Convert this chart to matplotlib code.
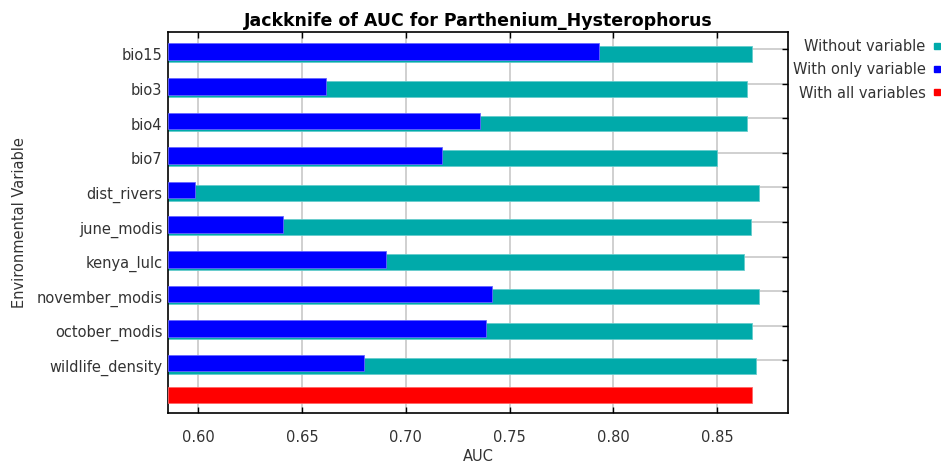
import numpy as np
import matplotlib
matplotlib.use("Agg")
import matplotlib.pyplot as plt
from matplotlib.lines import Line2D

plt.rcParams['font.family'] = ['DejaVu Sans']

# jackknife results read from the maxent output
variables = ["bio15", "bio3", "bio4", "bio7", "dist_rivers", "june_modis",
             "kenya_lulc", "november_modis", "october_modis", "wildlife_density"]
auc_without = [0.867, 0.8643, 0.8643, 0.850, 0.8702, 0.8662,
               0.8631, 0.8702, 0.867, 0.8689]
auc_only = [0.7933, 0.6614, 0.7356, 0.7173, 0.5983, 0.6409,
            0.6904, 0.7417, 0.7385, 0.680]
auc_all = 0.867
xticks = [0.60, 0.65, 0.70, 0.75, 0.80, 0.85]

teal = "#00AAAA"
blue = "#0000FF"
red = "#FF0000"
txt = "#333333"
fs = 10.5

W, H = 941, 463
fig = plt.figure(figsize=(W / 100, H / 100), dpi=100)
ax = fig.add_axes([168 / W, (H - 413) / H, (788 - 168) / W, (413 - 32) / H])

rows = np.arange(len(variables))
x0 = 0.5854
ax.barh(rows, np.array(auc_without) - x0, left=x0, height=0.46, color=teal,
        edgecolor="#66cccc", linewidth=0.6, zorder=2)
ax.barh(rows - 0.075, np.array(auc_only) - x0, left=x0, height=0.48, color=blue,
        edgecolor="#6666ff", linewidth=0.6, zorder=3)
ax.barh([9.847], [auc_all - x0], left=x0, height=0.46, color=red,
        edgecolor="#ff6666", linewidth=0.6, zorder=3)

ax.set_xlim(x0, 0.8842)
ax.set_ylim(10.367, -0.645)

ax.set_xticks(xticks)
ax.set_xticklabels(["%.2f" % t for t in xticks], color=txt, fontsize=fs)
ax.set_yticks(rows)
ax.set_yticklabels(variables, color=txt, fontsize=fs)
ax.set_yticks(rows - 0.153, minor=True)

ax.tick_params(axis="x", which="major", direction="in", top=True, bottom=True,
               length=4, width=1, pad=12)
ax.tick_params(axis="y", which="major", length=0, pad=4)
ax.tick_params(axis="y", which="minor", direction="in", left=False, right=True,
               length=4, width=1)

ax.grid(True, axis="x", which="major", color="#c8c8c8", linewidth=1.2, zorder=0)
ax.grid(True, axis="y", which="minor", color="#c8c8c8", linewidth=1.2, zorder=0)
ax.set_axisbelow(True)
for s in ax.spines.values():
    s.set_linewidth(1.2)

ax.set_title("Jackknife of AUC for Parthenium_Hysterophorus", fontsize=12.5,
             fontweight="bold", pad=4)
ax.set_xlabel("AUC", color=txt, fontsize=fs, labelpad=3)
ax.set_ylabel("Environmental Variable", color=txt, fontsize=fs, labelpad=7)

handles = [Line2D([], [], marker="s", color=c, linestyle="", markersize=4)
           for c in (teal, blue, red)]
fig.legend(handles, ["Without variable", "With only variable", "With all variables"],
           loc="upper right", bbox_to_anchor=(1.007, 0.928), frameon=False,
           borderaxespad=0, markerfirst=False, handlelength=0.6, handletextpad=0.5,
           labelspacing=0.56, fontsize=fs, labelcolor=txt)

fig.savefig("out.png", dpi=100)
